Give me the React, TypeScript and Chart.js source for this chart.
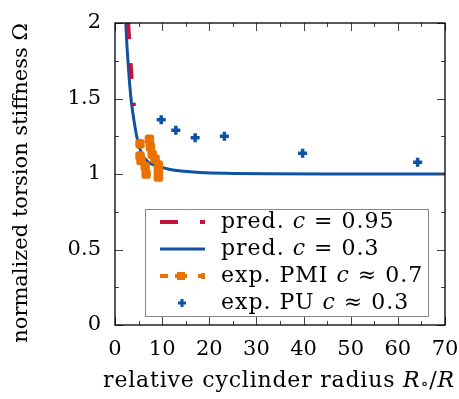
import React, { useEffect, useRef } from 'react';
import { Chart, registerables } from 'chart.js';

Chart.register(...registerables);

// ---- data ----
const xTickValues = [0, 10, 20, 30, 40, 50, 60, 70];
const yTickValues = [0, 0.5, 1, 1.5, 2];

const predHighX = [2.8, 3.1, 3.4, 3.7, 4.0];
const predHighY = [2.0, 1.84, 1.69, 1.56, 1.45];

const predLowX = [2.2, 2.3, 2.5, 2.75, 3.15, 3.5, 4.0, 4.6, 5.6, 7.0, 9.2, 11.7, 14, 18, 25, 32, 45, 70];
const predLowY = [2.1, 2.0, 1.87, 1.75, 1.58, 1.47, 1.36, 1.25, 1.14, 1.08, 1.05, 1.03, 1.02, 1.01, 1.004, 1.001, 1.0, 1.0];

const pmiX = [5.3, 5.3, 5.5, 6.4, 6.6, 7.3, 7.5, 7.9, 8.5, 9.2, 9.2, 9.2];
const pmiY = [1.2, 1.12, 1.09, 1.05, 1.0, 1.23, 1.18, 1.13, 1.1, 1.06, 1.02, 0.98];

const puX = [9.8, 12.9, 17.0, 23.2, 39.8, 64.2];
const puY = [1.36, 1.29, 1.24, 1.25, 1.137, 1.077];

type Part = { t: string; i?: boolean; s?: number; dy?: number };

const legendLabels: Part[][] = [
  [{ t: 'pred. ' }, { t: 'c', i: true }, { t: ' = 0.95' }],
  [{ t: 'pred. ' }, { t: 'c', i: true }, { t: ' = 0.3' }],
  [{ t: 'exp. PMI ' }, { t: 'c', i: true }, { t: ' \u2248 0.7' }],
  [{ t: 'exp. PU ' }, { t: 'c', i: true }, { t: ' \u2248 0.3' }],
];
const xTitle: Part[] = [{ t: 'relative cyclinder radius ' }, { t: 'R', i: true }, { t: '\u2218', s: 0.75, dy: 4 }, { t: '/' }, { t: 'R', i: true }];
const yTitle: Part[] = [{ t: 'normalized torsion stiffness \u03a9' }];

const RED = 'rgb(196,18,58)';
const BLUE = 'rgb(14,82,164)';
const ORANGE = 'rgb(234,114,0)';
const FONT = '"DejaVu Serif", serif';
const FS = 21;

function setFont(ctx: CanvasRenderingContext2D, p: Part, size: number) {
  ctx.font = `${p.i ? 'italic ' : ''}${size * (p.s || 1)}px ${FONT}`;
}

function richWidth(ctx: CanvasRenderingContext2D, parts: Part[], size: number) {
  let w = 0;
  for (const p of parts) {
    setFont(ctx, p, size);
    w += ctx.measureText(p.t).width;
  }
  return w;
}

function drawRich(ctx: CanvasRenderingContext2D, parts: Part[], x: number, y: number, size: number, align: 'left' | 'center', spacing: number) {
  (ctx as any).letterSpacing = `${spacing}px`;
  const w = richWidth(ctx, parts, size);
  let cx = align === 'center' ? x - w / 2 : x;
  ctx.textAlign = 'left';
  ctx.textBaseline = 'middle';
  ctx.fillStyle = '#000';
  for (const p of parts) {
    setFont(ctx, p, size);
    ctx.fillText(p.t, cx, y + (p.dy || 0));
    cx += ctx.measureText(p.t).width;
  }
  (ctx as any).letterSpacing = '0px';
}

const decorPlugin = {
  id: 'decor',
  afterDatasetsDraw(chart: any) {
    const ctx: CanvasRenderingContext2D = chart.ctx;
    const { left, right, top, bottom } = chart.chartArea;
    const xs = chart.scales.x;
    const ys = chart.scales.y;
    ctx.save();
    // inward ticks
    ctx.strokeStyle = '#444';
    ctx.lineWidth = 1;
    ctx.beginPath();
    for (let v = 0; v <= 70; v += 5) {
      const px = Math.round(xs.getPixelForValue(v)) + 0.5;
      const len = v % 10 === 0 ? 8 : 4;
      ctx.moveTo(px, bottom); ctx.lineTo(px, bottom - len);
      ctx.moveTo(px, top); ctx.lineTo(px, top + len);
    }
    for (let v = 0; v <= 2.0001; v += 0.25) {
      const py = Math.round(ys.getPixelForValue(v)) + 0.5;
      const len = Math.abs((v / 0.5) - Math.round(v / 0.5)) < 1e-6 ? 8 : 4;
      ctx.moveTo(left, py); ctx.lineTo(left + len, py);
      ctx.moveTo(right, py); ctx.lineTo(right - len, py);
    }
    ctx.stroke();
    // frame
    ctx.strokeStyle = '#000';
    ctx.lineWidth = 1.3;
    ctx.strokeRect(left, top, right - left, bottom - top);

    // legend box
    const bx = 145, by = 209, bw = 283, bh = 107;
    ctx.fillStyle = '#fff';
    ctx.fillRect(bx, by, bw, bh);
    ctx.strokeStyle = '#888';
    ctx.lineWidth = 1;
    ctx.strokeRect(bx + 0.5, by + 0.5, bw, bh);
    const rows = [222, 249, 276, 303];
    const sx0 = 160, sx1 = 205, tx = 221;
    // red dash sample
    ctx.strokeStyle = RED;
    ctx.lineWidth = 4;
    ctx.setLineDash([18, 22]);
    ctx.beginPath(); ctx.moveTo(sx0, rows[0]); ctx.lineTo(sx1, rows[0]); ctx.stroke();
    ctx.setLineDash([]);
    // blue line sample
    ctx.strokeStyle = BLUE;
    ctx.lineWidth = 3;
    ctx.beginPath(); ctx.moveTo(sx0, rows[1]); ctx.lineTo(sx1, rows[1]); ctx.stroke();
    // orange sample
    ctx.strokeStyle = ORANGE;
    ctx.lineWidth = 4;
    ctx.setLineDash([8, 30]);
    ctx.beginPath(); ctx.moveTo(sx0, rows[2]); ctx.lineTo(sx1, rows[2]); ctx.stroke();
    ctx.setLineDash([]);
    ctx.fillStyle = ORANGE;
    ctx.fillRect(177, rows[2] - 4, 8, 8);
    ctx.fillRect(175, rows[2] - 2, 12, 4);
    ctx.fillRect(201, rows[2] - 3, 4, 6);
    // blue cross sample
    ctx.strokeStyle = BLUE;
    ctx.lineWidth = 3;
    ctx.beginPath();
    ctx.moveTo(182 - 4, rows[3]); ctx.lineTo(182 + 4, rows[3]);
    ctx.moveTo(182, rows[3] - 4); ctx.lineTo(182, rows[3] + 4);
    ctx.stroke();
    legendLabels.forEach((parts, k) => drawRich(ctx, parts, tx, rows[k], 22, 'left', 1));

    // axis titles
    drawRich(ctx, xTitle, 279, 381, 22, 'center', 0.8);
    ctx.translate(22, 183);
    ctx.rotate(-Math.PI / 2);
    drawRich(ctx, yTitle, 0, 0, FS, 'center', 0);
    ctx.restore();
  },
};

export default function App() {
  const ref = useRef<HTMLCanvasElement>(null);
  useEffect(() => {
    if (!ref.current) return;
    const chart = new Chart(ref.current, {
      type: 'scatter',
      data: {
        datasets: [
          {
            label: 'exp. PU c ≈ 0.3',
            data: puX.map((x, k) => ({ x, y: puY[k] })),
            pointStyle: 'cross',
            pointRadius: 4.5,
            borderColor: BLUE,
            backgroundColor: BLUE,
            borderWidth: 3.5,
            showLine: false,
          },
          {
            label: 'exp. PMI c ≈ 0.7',
            data: pmiX.map((x, k) => ({ x, y: pmiY[k] })),
            pointStyle: 'rectRounded',
            pointRadius: 5.5,
            borderColor: ORANGE,
            backgroundColor: ORANGE,
            borderWidth: 0,
            showLine: false,
          },
          {
            label: 'pred. c = 0.95',
            data: predHighX.map((x, k) => ({ x, y: predHighY[k] })),
            showLine: true,
            borderColor: RED,
            borderWidth: 4,
            borderDash: [16, 24],
            pointRadius: 0,
            cubicInterpolationMode: 'monotone',
          },
          {
            label: 'pred. c = 0.3',
            data: predLowX.map((x, k) => ({ x, y: predLowY[k] })),
            showLine: true,
            borderColor: BLUE,
            borderWidth: 3,
            pointRadius: 0,
            cubicInterpolationMode: 'monotone',
          },
        ],
      },
      options: {
        animation: false,
        responsive: false,
        maintainAspectRatio: false,
        layout: { padding: { top: 23, right: 14, left: 0, bottom: 0 } },
        plugins: { legend: { display: false }, tooltip: { enabled: false } },
        scales: {
          x: {
            type: 'linear',
            min: 0,
            max: 70,
            afterBuildTicks: (s: any) => { s.ticks = xTickValues.map((v) => ({ value: v })); },
            afterFit: (s: any) => { s.height = 74; s.paddingLeft = 0; s.paddingRight = 0; },
            grid: { display: false, drawTicks: false },
            border: { display: false },
            ticks: { color: '#000', padding: 12, font: { family: FONT, size: FS }, maxRotation: 0, callback: (v: any) => String(v) },
          },
          y: {
            type: 'linear',
            min: 0,
            max: 2,
            afterBuildTicks: (s: any) => { s.ticks = yTickValues.map((v) => ({ value: v })); },
            afterFit: (s: any) => { s.width = 115; s.paddingTop = 0; s.paddingBottom = 0; },
            grid: { display: false, drawTicks: false },
            border: { display: false },
            ticks: { color: '#000', padding: 14, font: { family: FONT, size: FS }, callback: (v: any) => String(v) },
          },
        },
      },
      plugins: [decorPlugin],
    });
    return () => chart.destroy();
  }, []);
  return (
    <div style={{ position: 'fixed', left: 0, top: 0, width: 459, height: 399, background: '#fff' }}>
      <canvas ref={ref} width={459} height={399} style={{ width: 459, height: 399 }} />
    </div>
  );
}
